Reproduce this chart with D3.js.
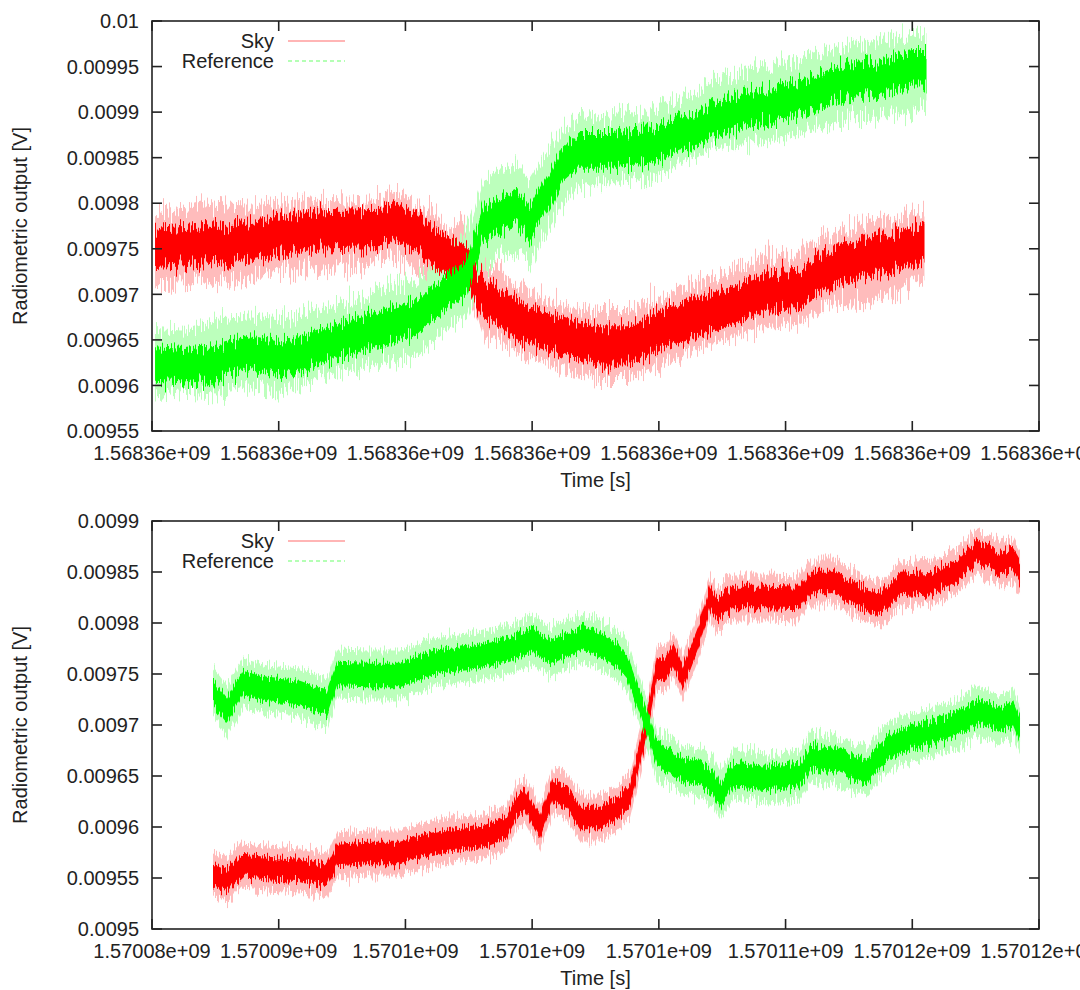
<!DOCTYPE html>
<html><head><meta charset="utf-8">
<script src="https://cdn.jsdelivr.net/npm/d3@7"></script>
<style>
html,body{margin:0;padding:0;background:#fff;}
svg{display:block;font-family:"Liberation Sans",Arial,Helvetica,sans-serif;}
</style></head>
<body><svg id="c" width="1080" height="990"></svg>
<script>
// ---------- Panel 1 (top) ----------
const topXTickLabels = ["1.56836e+09","1.56836e+09","1.56836e+09","1.56836e+09","1.56836e+09","1.56836e+09","1.56836e+09","1.56836e+09"];
const topXTicks = [1568357000,1568358000,1568359000,1568360000,1568361000,1568362000,1568363000,1568364000];
const topYTicks = [0.00955,0.0096,0.00965,0.0097,0.00975,0.0098,0.00985,0.0099,0.00995,0.01];
const topYTickLabels = ["0.00955","0.0096","0.00965","0.0097","0.00975","0.0098","0.00985","0.0099","0.00995","0.01"];

const topSkyTime = [1568357024,1568357260,1568357418,1568357513,1568357773,1568358033,1568358301,1568358561,1568358822,1568358956,1568359090,1568359216,1568359350,1568359445,1568359508,1568359571,1568359626,1568359721,1568359878,1568359981,1568360139,1568360375,1568360533,1568360769,1568361006,1568361298,1568361582,1568361850,1568362109,1568362213,1568362370,1568362638,1568362899,1568363096];
const topSkyMid = [0.009751,0.009753,0.009755,0.009753,0.009758,0.009764,0.009771,0.009772,0.009773,0.009779,0.009768,0.009754,0.009741,0.009736,0.009727,0.009705,0.009694,0.009688,0.009672,0.009666,0.009658,0.009648,0.009644,0.009644,0.009661,0.009675,0.009688,0.009703,0.009705,0.009716,0.009730,0.009740,0.009749,0.009756];
const topSkyMax = [0.009789,0.009793,0.009800,0.009798,0.009796,0.009800,0.009805,0.009804,0.009806,0.009812,0.009800,0.009792,0.009772,0.009785,0.009762,0.009738,0.009730,0.009728,0.009708,0.009703,0.009692,0.009681,0.009684,0.009684,0.009697,0.009712,0.009727,0.009745,0.009741,0.009757,0.009765,0.009778,0.009785,0.009792];
const topSkyMin = [0.009710,0.009711,0.009714,0.009710,0.009717,0.009724,0.009729,0.009732,0.009738,0.009736,0.009728,0.009718,0.009712,0.009706,0.009696,0.009674,0.009650,0.009652,0.009637,0.009630,0.009621,0.009614,0.009607,0.009607,0.009621,0.009641,0.009652,0.009664,0.009668,0.009676,0.009690,0.009688,0.009702,0.009722];

const topRefTime = [1568357024,1568357260,1568357513,1568357773,1568358033,1568358301,1568358561,1568358822,1568359090,1568359216,1568359350,1568359484,1568359547,1568359610,1568359721,1568359878,1568359981,1568360139,1568360241,1568360375,1568360509,1568360635,1568360769,1568360904,1568361030,1568361164,1568361298,1568361424,1568361692,1568361952,1568362213,1568362481,1568362741,1568363001,1568363112];
const topRefMid = [0.009623,0.009621,0.009626,0.009636,0.009628,0.009642,0.009653,0.009663,0.009675,0.009692,0.009705,0.009718,0.009749,0.009776,0.009787,0.009795,0.009779,0.009815,0.009842,0.009858,0.009858,0.009858,0.009861,0.009862,0.009867,0.009877,0.009880,0.009891,0.009902,0.009910,0.009919,0.009935,0.009939,0.009946,0.009946];
const topRefMax = [0.009662,0.009660,0.009672,0.009676,0.009672,0.009684,0.009692,0.009706,0.009716,0.009730,0.009748,0.009770,0.009795,0.009822,0.009836,0.009842,0.009826,0.009860,0.009880,0.009896,0.009893,0.009900,0.009898,0.009895,0.009906,0.009916,0.009922,0.009935,0.009946,0.009954,0.009964,0.009975,0.009980,0.009986,0.009980];
const topRefMin = [0.009588,0.009592,0.009590,0.009598,0.009594,0.009608,0.009616,0.009626,0.009632,0.009648,0.009664,0.009676,0.009700,0.009726,0.009738,0.009744,0.009732,0.009775,0.009797,0.009818,0.009822,0.009822,0.009828,0.009824,0.009833,0.009844,0.009850,0.009860,0.009864,0.009872,0.009882,0.009893,0.009894,0.009900,0.009905];

// ---------- Panel 2 (bottom) ----------
const botXTickLabels = ["1.57008e+09","1.57009e+09","1.5701e+09","1.5701e+09","1.5701e+09","1.57011e+09","1.57012e+09","1.57012e+09"];
const botXTicks = [1570085000,1570090000,1570095000,1570100000,1570105000,1570110000,1570115000,1570120000];
const botYTicks = [0.0095,0.00955,0.0096,0.00965,0.0097,0.00975,0.0098,0.00985,0.0099];
const botYTickLabels = ["0.0095","0.00955","0.0096","0.00965","0.0097","0.00975","0.0098","0.00985","0.0099"];

const botSkyTime = [1570087407,1570087960,1570088472,1570089538,1570090840,1570091906,1570092300,1570093484,1570094786,1570095457,1570096759,1570098061,1570099008,1570099403,1570099719,1570100310,1570100823,1570101376,1570101889,1570102678,1570103349,1570103862,1570104256,1570104533,1570104927,1570105243,1570105559,1570105953,1570106624,1570107019,1570107295,1570107926,1570109268,1570110570,1570110965,1570111872,1570113214,1570113845,1570114516,1570115818,1570116884,1570117555,1570118462,1570118975,1570119251];
const botSkyMid = [0.0095529,0.0095480,0.0095618,0.0095598,0.0095578,0.0095520,0.0095725,0.0095745,0.0095745,0.0095804,0.0095873,0.0095902,0.0096000,0.0096216,0.0096265,0.0096000,0.0096363,0.0096284,0.0096088,0.0096088,0.0096186,0.0096314,0.0096725,0.0097020,0.0097559,0.0097539,0.0097686,0.0097471,0.0097912,0.0098245,0.0098127,0.0098255,0.0098255,0.0098245,0.0098402,0.0098402,0.0098225,0.0098206,0.0098373,0.0098392,0.0098539,0.0098696,0.0098588,0.0098618,0.0098500];
const botRefTime = [1570087407,1570087960,1570088591,1570089538,1570090840,1570091906,1570092300,1570093484,1570094786,1570096088,1570097430,1570098732,1570100034,1570100705,1570102007,1570102678,1570103349,1570103744,1570104138,1570104533,1570104927,1570105440,1570105953,1570106624,1570107137,1570107413,1570107926,1570109268,1570110570,1570110965,1570111872,1570113214,1570113845,1570114516,1570115818,1570116884,1570117555,1570118462,1570118975,1570119251];
const botRefMid = [0.0097324,0.0097147,0.0097412,0.0097343,0.0097314,0.0097216,0.0097500,0.0097490,0.0097490,0.0097618,0.0097657,0.0097716,0.0097833,0.0097716,0.0097853,0.0097784,0.0097686,0.0097569,0.0097294,0.0097020,0.0096706,0.0096657,0.0096559,0.0096529,0.0096441,0.0096314,0.0096510,0.0096480,0.0096510,0.0096686,0.0096657,0.0096539,0.0096725,0.0096853,0.0096931,0.0097020,0.0097147,0.0097049,0.0097118,0.0096951];

// noise half-widths (volts)
const topSkyCore = 0.000021, topRefCore = 0.000019;
const botSkyCore = 0.000011, botSkySpike = 0.000022;
const botRefCore = 0.000012, botRefSpike = 0.000024;

const seriesNames = ["Sky","Reference"];

// ---------- drawing ----------
const svg = d3.select("#c");
const plotL = 152, plotR = 1039;
const defs = svg.append("defs");

// texture filter: vertical hair-like jitter of band edges (rendering only)
function jitterFilter(id, scale, seed) {
  const f = defs.append("filter").attr("id", id)
    .attr("x", "-2%").attr("y", "-30%").attr("width", "104%").attr("height", "160%");
  f.append("feTurbulence").attr("type","fractalNoise").attr("baseFrequency","0.85 0.006")
    .attr("numOctaves", 2).attr("seed", seed).attr("result","t");
  f.append("feColorMatrix").attr("in","t").attr("type","matrix")
    .attr("values","0 0 0 0 0.5  0 1 0 0 0  0 0 0 0 0  0 0 0 0 1").attr("result","m");
  f.append("feDisplacementMap").attr("in","SourceGraphic").attr("in2","m")
    .attr("scale", scale).attr("xChannelSelector","R").attr("yChannelSelector","G");
}
jitterFilter("jTopOuter", 46, 3);
jitterFilter("jTopCore", 34, 7);
jitterFilter("jBotOuter", 26, 11);
jitterFilter("jBotCore", 20, 5);

function panel(cfg) {
  const x = d3.scaleLinear().domain([cfg.xTicks[0], cfg.xTicks[cfg.xTicks.length-1]]).range([plotL, plotR]);
  const y = d3.scaleLinear().domain([cfg.yTicks[0], cfg.yTicks[cfg.yTicks.length-1]]).range([cfg.bottom, cfg.top]);
  const g = svg.append("g");
  const clipId = "clip" + cfg.id;
  defs.append("clipPath").attr("id", clipId).append("rect")
    .attr("x", plotL).attr("y", cfg.top).attr("width", plotR-plotL).attr("height", cfg.bottom-cfg.top);
  const data = g.append("g").attr("clip-path", `url(#${clipId})`);

  const series = cfg.series.map(s => s.time.map((t,i) => ({
    t,
    lo: s.min ? s.min[i] : s.mid[i] - s.spike,
    hi: s.max ? s.max[i] : s.mid[i] + s.spike,
    clo: s.mid[i] - s.core, chi: s.mid[i] + s.core
  })));
  const outer = d3.area().x(d => x(d.t)).y0(d => y(d.lo)).y1(d => y(d.hi));
  const core = d3.area().x(d => x(d.t)).y0(d => y(d.clo)).y1(d => y(d.chi));
  cfg.series.forEach((s, k) => {
    data.append("g").attr("filter", `url(#${cfg.outerF})`)
      .append("path").datum(series[k]).attr("d", outer).attr("fill", s.pale);
  });
  cfg.series.forEach((s, k) => {
    data.append("g").attr("filter", `url(#${cfg.coreF})`)
      .append("path").datum(series[k]).attr("d", core).attr("fill", s.color);
  });

  // frame
  g.append("rect").attr("x", plotL).attr("y", cfg.top).attr("width", plotR-plotL).attr("height", cfg.bottom-cfg.top)
    .attr("fill","none").attr("stroke","#222").attr("stroke-width",1.6);

  const tl = 10;
  cfg.xTicks.forEach((t,i) => {
    const px = x(t);
    g.append("line").attr("x1",px).attr("x2",px).attr("y1",cfg.bottom).attr("y2",cfg.bottom-tl).attr("stroke","#222").attr("stroke-width",1.6);
    g.append("line").attr("x1",px).attr("x2",px).attr("y1",cfg.top).attr("y2",cfg.top+tl).attr("stroke","#222").attr("stroke-width",1.6);
    g.append("text").attr("x",px).attr("y",cfg.bottom+29).attr("text-anchor","middle")
      .attr("font-size",20).attr("fill","#222").text(cfg.xTickLabels[i]);
  });
  cfg.yTicks.forEach((v,i) => {
    const py = y(v);
    g.append("line").attr("x1",plotL).attr("x2",plotL+tl).attr("y1",py).attr("y2",py).attr("stroke","#222").attr("stroke-width",1.6);
    g.append("line").attr("x1",plotR).attr("x2",plotR-tl).attr("y1",py).attr("y2",py).attr("stroke","#222").attr("stroke-width",1.6);
    g.append("text").attr("x",139).attr("y",py).attr("dy","0.36em").attr("text-anchor","end")
      .attr("font-size",20).attr("fill","#222").text(cfg.yTickLabels[i]);
  });
  g.append("text").attr("x",(plotL+plotR)/2).attr("y",cfg.bottom+56).attr("text-anchor","middle")
    .attr("font-size",20).attr("fill","#222").text("Time [s]");
  g.append("text").attr("transform",`translate(20,${(cfg.top+cfg.bottom)/2}) rotate(-90)`)
    .attr("dy","0.36em").attr("text-anchor","middle").attr("font-size",20).attr("fill","#222")
    .text("Radiometric output [V]");

  const ly = [cfg.top+20, cfg.top+40];
  seriesNames.forEach((name,k) => {
    g.append("text").attr("x",274).attr("y",ly[k]).attr("dy","0.36em").attr("text-anchor","end")
      .attr("font-size",20).attr("fill","#222").text(name);
    g.append("line").attr("x1",288).attr("x2",345).attr("y1",ly[k]).attr("y2",ly[k])
      .attr("stroke",cfg.series[k].legend).attr("stroke-width",1.6)
      .attr("stroke-dasharray", k===1 ? "4,3" : null);
  });
}

panel({
  id: 1, top: 21, bottom: 431, outerF: "jTopOuter", coreF: "jTopCore",
  xTicks: topXTicks, xTickLabels: topXTickLabels,
  yTicks: topYTicks, yTickLabels: topYTickLabels,
  series: [
    {time: topSkyTime, mid: topSkyMid, min: topSkyMin, max: topSkyMax, core: topSkyCore, color: "#ff0000", pale: "#ffbcbc", legend: "#ff9c9c"},
    {time: topRefTime, mid: topRefMid, min: topRefMin, max: topRefMax, core: topRefCore, color: "#00ff00", pale: "#bcffbc", legend: "#9cff9c"}
  ]
});
panel({
  id: 2, top: 521, bottom: 929, outerF: "jBotOuter", coreF: "jBotCore",
  xTicks: botXTicks, xTickLabels: botXTickLabels,
  yTicks: botYTicks, yTickLabels: botYTickLabels,
  series: [
    {time: botSkyTime, mid: botSkyMid, core: botSkyCore, spike: botSkySpike, color: "#ff0000", pale: "#ffbcbc", legend: "#ff9c9c"},
    {time: botRefTime, mid: botRefMid, core: botRefCore, spike: botRefSpike, color: "#00ff00", pale: "#bcffbc", legend: "#9cff9c"}
  ]
});
</script></body></html>
